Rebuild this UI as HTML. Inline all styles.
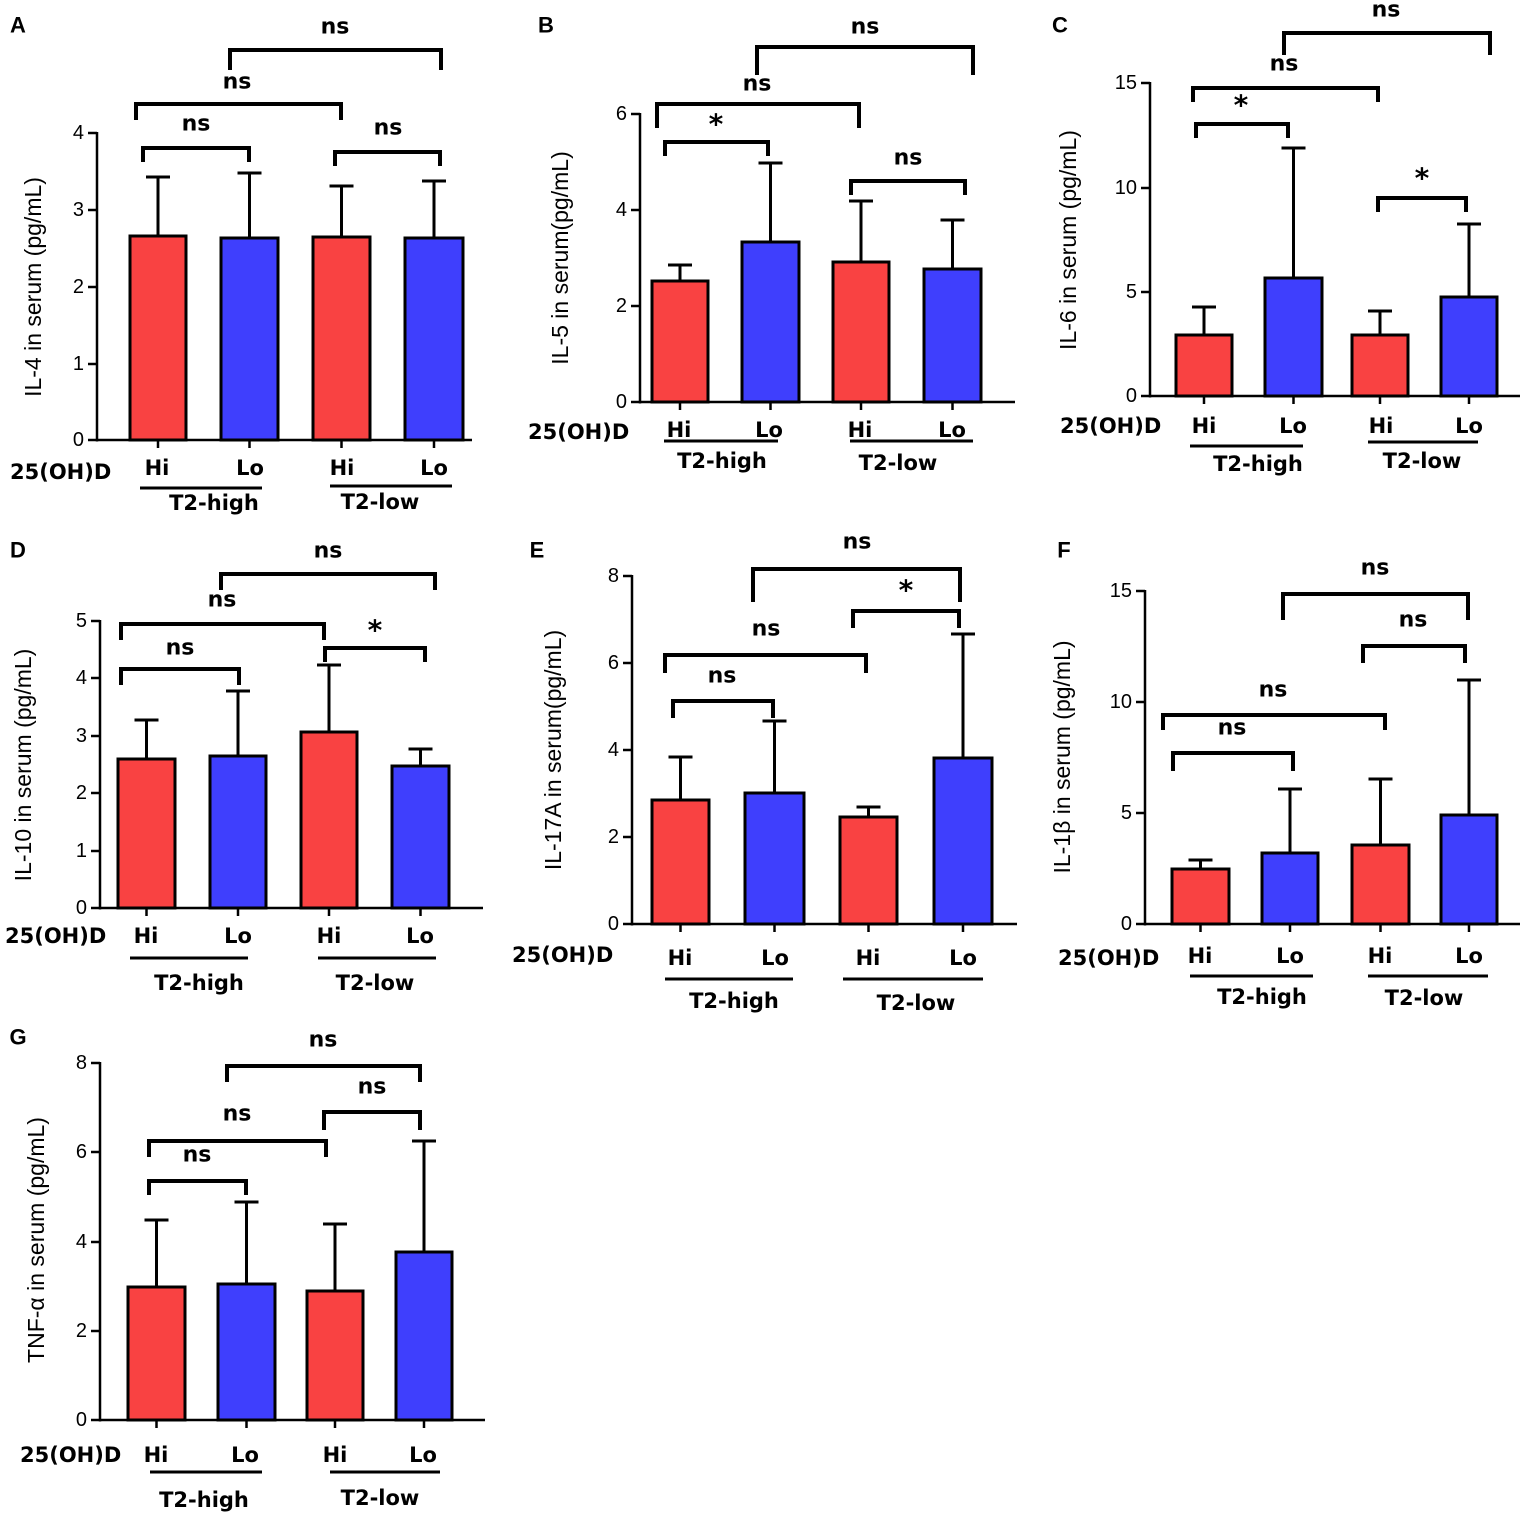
<!DOCTYPE html>
<html><head><meta charset="utf-8">
<style>
html,body{margin:0;padding:0;background:#fff;}
</style></head>
<body>
<svg id="s" width="1535" height="1518" xmlns="http://www.w3.org/2000/svg"></svg>
<script>
const S=document.getElementById('s');
function el(t,a,txt){const e=document.createElementNS('http://www.w3.org/2000/svg',t);for(const k in a)e.setAttribute(k,a[k]);if(txt!==undefined)e.textContent=txt;S.appendChild(e);return e;}
function line(x1,y1,x2,y2,w){el('line',{x1,y1,x2,y2,stroke:'#000','stroke-width':w||3});}
function txt(x,y,t,o){o=o||{};const ff=o.ff||'"DejaVu Sans","Liberation Sans",sans-serif';const a={x,y,'text-anchor':o.a||'middle','dominant-baseline':'central',style:`font-family:${ff};font-size:${o.fs||22}px;font-weight:${o.fw||'bold'};fill:#000`};if(o.tr)a.transform=o.tr;el('text',a,t);}
const RED='#f94242',BLUE='#3f3ffd';
const LIB='"Liberation Sans",Arial,sans-serif';
function panel(P){
  txt(P.L[0],P.L[1],P.L[2],{fs:22,ff:LIB});
  P.bars.forEach((b,i)=>{
    const cx=(b[0]+b[1])/2;
    line(cx,b[3],cx,b[2],3);line(cx-12,b[3],cx+12,b[3],3);
    el('rect',{x:b[0],y:b[2],width:b[1]-b[0],height:P.y0-b[2],fill:i%2?BLUE:RED,stroke:'#000','stroke-width':3});
  });
  line(P.ax,P.ytop-1,P.ax,P.y0+1.5,2.5);line(P.ax,P.y0,P.xend,P.y0,2.5);
  P.ticks.forEach(t=>{line(P.ax-9,t[1],P.ax,t[1],2.5);txt(P.ax-13,t[1],t[0],{a:'end',fs:20,fw:'normal',ff:LIB});});
  P.bars.forEach(b=>{const cx=(b[0]+b[1])/2;line(cx,P.y0,cx,P.y0+8,2.5);});
  ['Hi','Lo','Hi','Lo'].forEach((l,i)=>txt(P.lab[i],P.ly,l,{fs:21}));
  txt(P.oh[0],P.oh[1],'25(OH)D',{a:'start',fs:21});
  line(P.u1[0],P.u1[2],P.u1[1],P.u1[2],3);line(P.u2[0],P.u2[2],P.u2[1],P.u2[2],3);
  txt(P.t1[0],P.t1[1],'T2-high',{fs:21});txt(P.t2[0],P.t2[1],'T2-low',{fs:21});
  txt(P.yl[0],P.yl[1],P.yl[2],{fs:23,fw:'normal',ff:LIB,tr:`rotate(-90 ${P.yl[0]} ${P.yl[1]})`});
  P.br.forEach(b=>{
    el('polyline',{points:`${b[0]},${b[3]} ${b[0]},${b[2]} ${b[1]},${b[2]} ${b[1]},${b[3]}`,fill:'none',stroke:'#000','stroke-width':4});
    txt(b[5],b[6],b[4],{fs:b[4]=='*'?28:22});
  });
}
panel({L:[18,25,'A'],ax:97,ytop:133,y0:440,xend:472,ticks:[[4,133],[3,210],[2,287],[1,364],[0,440]],
bars:[[130,186,236,177],[221,278,238,173],[313,370,237,186],[405,463,238,181]],
lab:[157,250,342,434],ly:468,oh:[10,472],u1:[140,262,488],u2:[330,452,486],t1:[214,503],t2:[380,502],
yl:[33,287,'IL-4 in serum (pg/mL)'],
br:[[143,249,148,162,'ns',196,124],[335,440,152,166,'ns',388,128],[136,341,104,120,'ns',237,82],[230,441,50,70,'ns',335,27]]});
panel({L:[546,25,'B'],ax:640,ytop:114,y0:402,xend:1015,ticks:[[0,402],[2,306],[4,210],[6,114]],
bars:[[652,708,281,265],[742,799,242,163],[833,889,262,201],[924,981,269,220]],
lab:[679,769,860,952],ly:430,oh:[528,432],u1:[664,778,441],u2:[850,973,441],t1:[722,461],t2:[898,463],
yl:[560,258,'IL-5 in serum(pg/mL)'],
br:[[665,768,142,156,'*',716,124],[851,965,181,195,'ns',908,158],[657,859,104,128,'ns',757,84],[757,973,47,75,'ns',865,27]]});
panel({L:[1060,25,'C'],ax:1150,ytop:83,y0:396,xend:1520,ticks:[[0,396],[5,292],[10,188],[15,83]],
bars:[[1176,1232,335,307],[1265,1322,278,148],[1352,1408,335,311],[1441,1497,297,224]],
lab:[1204,1293,1381,1469],ly:426,oh:[1060,426],u1:[1190,1303,446],u2:[1368,1478,442],t1:[1258,464],t2:[1422,461],
yl:[1068,240,'IL-6 in serum (pg/mL)'],
br:[[1196,1288,124,138,'*',1241,105],[1378,1466,198,212,'*',1422,178],[1193,1378,88,102,'ns',1284,64],[1284,1490,33,55,'ns',1386,10]]});
panel({L:[18,550,'D'],ax:100,ytop:621,y0:908,xend:483,ticks:[[0,908],[1,851],[2,793],[3,736],[4,678],[5,621]],
bars:[[118,175,759,720],[210,266,756,691],[301,357,732,665],[392,449,766,749]],
lab:[146,238,329,420],ly:936,oh:[5,936],u1:[130,248,958],u2:[318,436,958],t1:[199,983],t2:[375,983],
yl:[23,765,'IL-10 in serum (pg/mL)'],
br:[[121,239,669,685,'ns',180,648],[325,425,648,662,'*',375,630],[121,324,624,640,'ns',222,600],[221,435,574,590,'ns',328,551]]});
panel({L:[537,550,'E'],ax:632,ytop:576,y0:924,xend:1017,ticks:[[0,924],[2,837],[4,750],[6,663],[8,576]],
bars:[[652,709,800,757],[745,804,793,721],[840,897,817,807],[934,992,758,634]],
lab:[680,775,868,963],ly:958,oh:[512,955],u1:[665,793,979],u2:[843,983,979],t1:[734,1001],t2:[916,1003],
yl:[553,750,'IL-17A in serum(pg/mL)'],
br:[[673,773,701,718,'ns',722,676],[665,866,655,673,'ns',766,629],[853,959,611,628,'*',906,590],[753,960,569,602,'ns',857,542]]});
panel({L:[1064,550,'F'],ax:1145,ytop:591,y0:924,xend:1520,ticks:[[0,924],[5,813],[10,702],[15,591]],
bars:[[1172,1229,869,860],[1262,1318,853,789],[1352,1409,845,779],[1441,1497,815,680]],
lab:[1200,1290,1380,1469],ly:956,oh:[1058,958],u1:[1190,1313,976],u2:[1368,1488,976],t1:[1262,997],t2:[1424,998],
yl:[1062,757,'IL-1β in serum (pg/mL)'],
br:[[1173,1293,753,771,'ns',1232,728],[1163,1385,715,730,'ns',1273,690],[1363,1465,646,663,'ns',1413,620],[1283,1468,594,620,'ns',1375,568]]});
panel({L:[18,1037,'G'],ax:100,ytop:1063,y0:1420,xend:485,ticks:[[0,1420],[2,1331],[4,1242],[6,1152],[8,1063]],
bars:[[128,185,1287,1220],[218,275,1284,1202],[307,363,1291,1224],[396,452,1252,1141]],
lab:[156,245,335,423],ly:1455,oh:[20,1455],u1:[150,262,1472],u2:[330,440,1472],t1:[204,1500],t2:[380,1498],
yl:[36,1240,'TNF-α in serum (pg/mL)'],
br:[[149,246,1181,1195,'ns',197,1155],[149,326,1141,1157,'ns',237,1114],[324,420,1112,1130,'ns',372,1087],[227,420,1066,1082,'ns',323,1040]]});
</script>
</body></html>
